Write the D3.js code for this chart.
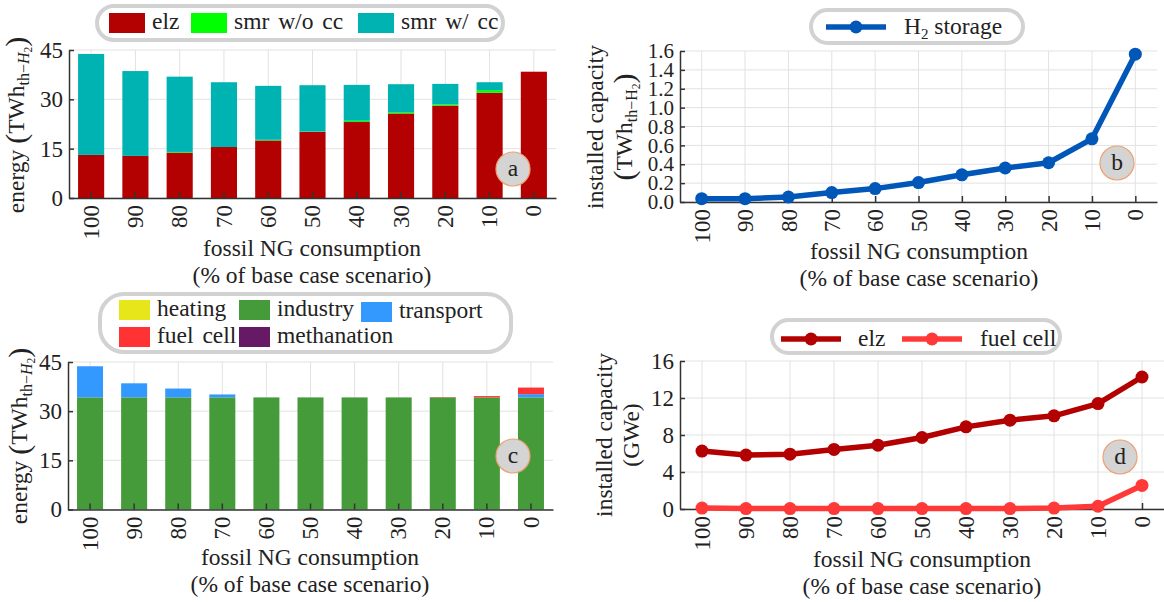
<!DOCTYPE html>
<html>
<head>
<meta charset="utf-8">
<script src="https://cdn.jsdelivr.net/npm/d3@7"></script>
<style>
  body { margin: 0; background: #fff; }
  svg text { font-family: "Liberation Serif", "Times New Roman", Times, "DejaVu Serif", serif !important; fill: #222; }
  .grid line { stroke: #e2e2e2; stroke-width: 1; }
  .axis path, .axis line { stroke: #333; stroke-width: 1.5; }
  .axis text { font-size: 23px; }
  .axis.small text { font-size: 21px; }
  .lbl { font-size: 23.5px; }
</style>
</head>
<body>
<svg id="chart" width="1164" height="602"></svg>
<script>
// x categories: fossil NG consumption (% of base case)
const scenarios = ['100', '90', '80', '70', '60', '50', '40', '30', '20', '10', '0'];

// (a) hydrogen production, TWh
const elzEnergy = [13.1, 12.8, 13.8, 15.5, 17.5, 20.1, 23.1, 25.7, 28.1, 32.0, 38.4];
const smrNoCc = [0, 0, 0.2, 0, 0.2, 0.1, 0.4, 0.4, 0.4, 0.8, 0];
const smrCc = [30.7, 25.8, 22.9, 19.7, 16.4, 14.1, 10.9, 8.5, 6.2, 2.4, 0];

// (b) H2 storage, TWh
const h2Storage = [0.035, 0.035, 0.053, 0.10, 0.142, 0.206, 0.288, 0.36, 0.416, 0.669, 1.566];

// (c) hydrogen use, TWh
const heating = [0, 0, 0, 0, 0, 0, 0, 0, 0, 0, 0];
const industry = [34.2, 34.2, 34.2, 34.2, 34.2, 34.2, 34.2, 34.2, 34.2, 34.2, 34.2];
const transport = [9.5, 4.3, 2.7, 0.9, 0, 0, 0, 0, 0, 0, 1.0];
const fuelCellUse = [0, 0, 0, 0, 0, 0, 0, 0, 0.1, 0.4, 2.0];
const methanation = [0, 0, 0, 0, 0, 0, 0, 0, 0, 0, 0];

// (d) installed capacity, GWe
const elzCap = [6.26, 5.83, 5.93, 6.44, 6.9, 7.73, 8.88, 9.6, 10.07, 11.4, 14.27];
const fuelCellCap = [0.1, 0.05, 0.05, 0.05, 0.05, 0.05, 0.05, 0.05, 0.1, 0.3, 2.55];

const energyTicks = [0, 15, 30, 45];
const storageTicks = [0, 0.2, 0.4, 0.6, 0.8, 1.0, 1.2, 1.4, 1.6];
const capTicks = [0, 4, 8, 12, 16];

const svg = d3.select('#chart');

function frame(x, y, yTicks) {
  const [x0, x1] = x.range();
  const [yb, yt] = y.range();
  const cx = d => x(d) + (x.bandwidth ? x.bandwidth() / 2 : 0);
  const grid = svg.append('g').attr('class', 'grid');
  grid.selectAll(null).data(yTicks).enter().append('line')
    .attr('x1', x0).attr('x2', x1)
    .attr('y1', d => y(d)).attr('y2', d => y(d));
  grid.selectAll(null).data(x.domain()).enter().append('line')
    .attr('x1', cx).attr('x2', cx)
    .attr('y1', yt).attr('y2', yb);
}

function axes(x, y, yTicks, fmt, cls) {
  const [yb] = y.range();
  svg.append('g')
      .attr('class', 'axis')
      .attr('transform', `translate(0,${yb})`)
      .call(d3.axisBottom(x).tickSizeInner(-6).tickSizeOuter(0).tickPadding(0))
    .selectAll('text')
      .attr('transform', 'rotate(-90)')
      .attr('x', -7).attr('y', 0).attr('dy', '0.33em')
      .style('text-anchor', 'end');
  svg.append('g')
      .attr('class', `axis ${cls || ''}`)
      .attr('transform', `translate(${x.range()[0]},0)`)
      .call(d3.axisLeft(y).tickValues(yTicks).tickFormat(fmt)
        .tickSizeInner(-5).tickSizeOuter(0).tickPadding(6));
}

function xTitle(cx, y1) {
  svg.append('text').attr('class', 'lbl').attr('x', cx).attr('y', y1)
    .attr('text-anchor', 'middle').text('fossil NG consumption');
  svg.append('text').attr('class', 'lbl').attr('x', cx).attr('y', y1 + 27)
    .attr('text-anchor', 'middle').text('(% of base case scenario)');
}

// "(TWh_{th-H2})" built from tspans
function twhLabel(t, italicH) {
  t.append('tspan').attr('font-size', 30).attr('dy', 2).text('(');
  t.append('tspan').attr('dy', -2).text('TWh');
  t.append('tspan').attr('font-size', 16).attr('dy', 5).text('th−');
  t.append('tspan').attr('font-size', 16).attr('font-style', italicH ? 'italic' : 'normal').text('H');
  t.append('tspan').attr('font-size', 11.5).attr('dy', 3).text('2');
  t.append('tspan').attr('font-size', 30).attr('dy', -6).text(')');
}

function rotLabel(x, y) {
  return svg.append('text').attr('class', 'lbl')
    .attr('transform', `translate(${x},${y}) rotate(-90)`)
    .attr('text-anchor', 'middle');
}

function pill(x, y, w, h) {
  svg.append('rect').attr('x', x).attr('y', y).attr('width', w).attr('height', h)
    .attr('rx', Math.min(h / 2, 24)).attr('fill', '#fff')
    .attr('stroke', '#d2d2d2').attr('stroke-width', 4);
}

function swatchItem(x, y, color, label, w) {
  svg.append('rect').attr('x', x).attr('y', y).attr('width', w).attr('height', 20)
    .attr('fill', color);
  svg.append('text').attr('class', 'lbl').attr('x', x + w + 7).attr('y', y + 16)
    .style('word-spacing', '3px').text(label);
}

function lineItem(x, y, color, label, tx) {
  svg.append('line').attr('x1', x).attr('x2', x + 60).attr('y1', y).attr('y2', y)
    .attr('stroke', color).attr('stroke-width', 5.5);
  svg.append('circle').attr('cx', x + 30).attr('cy', y).attr('r', 6.5).attr('fill', color);
  if (label) {
    svg.append('text').attr('class', 'lbl').attr('x', tx).attr('y', y + 7).text(label);
  }
}

function badge(cx, cy, letter) {
  svg.append('circle').attr('cx', cx).attr('cy', cy).attr('r', 17)
    .attr('fill', '#d4d4d4').attr('stroke', '#f0a070').attr('stroke-width', 1.2);
  svg.append('text').attr('class', 'lbl').attr('x', cx).attr('y', cy + 7)
    .attr('text-anchor', 'middle').text(letter);
}

function stacked(x, y, keys, series, colors) {
  const rows = scenarios.map((s, i) => {
    const r = { label: s };
    keys.forEach((k, j) => { r[k] = series[j][i]; });
    return r;
  });
  const layers = d3.stack().keys(keys)(rows);
  svg.append('g').selectAll('g')
    .data(layers)
    .enter().append('g')
      .attr('fill', (d, i) => colors[i])
    .selectAll('rect')
      .data(d => d)
    .enter().append('rect')
      .attr('x', d => x(d.data.label))
      .attr('y', d => y(d[1]))
      .attr('width', x.bandwidth())
      .attr('height', d => y(d[0]) - y(d[1]));
}

function lineSeries(x, y, values, color) {
  const pts = scenarios.map((s, i) => [x(s), y(values[i])]);
  svg.append('path').datum(pts)
    .attr('fill', 'none').attr('stroke', color).attr('stroke-width', 5.5)
    .attr('stroke-linejoin', 'round')
    .attr('d', d3.line());
  svg.append('g').selectAll('circle').data(pts).enter().append('circle')
    .attr('cx', d => d[0]).attr('cy', d => d[1]).attr('r', 6.5).attr('fill', color);
}

// ---- (a) ----
{
  const x = d3.scaleBand().domain(scenarios).range([69, 556])
    .paddingInner(0.41).paddingOuter(0.205);
  const y = d3.scaleLinear().domain([0, 45]).range([198, 50]);
  frame(x, y, energyTicks);
  stacked(x, y, ['elz', 'smrNoCc', 'smrCc'], [elzEnergy, smrNoCc, smrCc],
    ['#b30000', '#00ff00', '#00b3b3']);
  axes(x, y, energyTicks, d3.format('d'));
  xTitle(312, 256);
  const t = rotLabel(24, 125);
  t.append('tspan').text('energy ');
  twhLabel(t, true);
  pill(97, 6, 406, 34);
  swatchItem(109, 13, '#b30000', 'elz', 36);
  swatchItem(191, 13, '#00ff00', 'smr w/o cc', 36);
  swatchItem(358, 13, '#00b3b3', 'smr w/ cc', 36);
  badge(513, 169, 'a');
}

// ---- (b) ----
{
  const x = d3.scalePoint().domain(scenarios).range([680, 1157]).padding(0.5);
  const y = d3.scaleLinear().domain([0, 1.6]).range([202, 51]);
  frame(x, y, storageTicks);
  axes(x, y, storageTicks, d3.format('.1f'), 'small');
  lineSeries(x, y, h2Storage, '#0057b8');
  xTitle(919, 259);
  rotLabel(603, 127).text('installed capacity');
  twhLabel(rotLabel(632, 127), false);
  pill(811, 10, 212, 33);
  lineItem(826, 27, '#0057b8', '', 0);
  const t = svg.append('text').attr('class', 'lbl').attr('x', 904).attr('y', 34);
  t.append('tspan').text('H');
  t.append('tspan').attr('font-size', 15).attr('dy', 5).text('2');
  t.append('tspan').attr('dy', -5).text(' storage');
  badge(1117, 163, 'b');
}

// ---- (c) ----
{
  const x = d3.scaleBand().domain(scenarios).range([68, 553])
    .paddingInner(0.41).paddingOuter(0.205);
  const y = d3.scaleLinear().domain([0, 45]).range([509.5, 362]);
  frame(x, y, energyTicks);
  stacked(x, y, ['heating', 'industry', 'transport', 'fuelCell', 'methanation'],
    [heating, industry, transport, fuelCellUse, methanation],
    ['#e6e61a', '#459a3a', '#3399ff', '#ff3333', '#661a66']);
  axes(x, y, energyTicks, d3.format('d'));
  xTitle(310, 565);
  const t = rotLabel(27, 436);
  t.append('tspan').text('energy ');
  twhLabel(t, true);
  pill(100, 294, 411, 58);
  swatchItem(119, 300, '#e6e61a', 'heating', 31);
  swatchItem(239, 300, '#459a3a', 'industry', 31);
  swatchItem(361, 302, '#3399ff', 'transport', 31);
  swatchItem(119, 327, '#ff3333', 'fuel cell', 31);
  swatchItem(239, 327, '#661a66', 'methanation', 31);
  badge(513, 456, 'c');
}

// ---- (d) ----
{
  const x = d3.scalePoint().domain(scenarios).range([680, 1164]).padding(0.5);
  const y = d3.scaleLinear().domain([0, 16]).range([509, 361]);
  frame(x, y, capTicks);
  axes(x, y, capTicks, d3.format('d'));
  lineSeries(x, y, fuelCellCap, '#ff3838');
  lineSeries(x, y, elzCap, '#b30000');
  xTitle(922, 567);
  rotLabel(612, 435).text('installed capacity');
  rotLabel(639, 435).text('(GWe)');
  pill(772, 320, 288, 33);
  lineItem(781, 339, '#b30000', 'elz', 858);
  lineItem(902, 339, '#ff3838', 'fuel cell', 980);
  badge(1120, 457, 'd');
}
</script>
</body>
</html>
